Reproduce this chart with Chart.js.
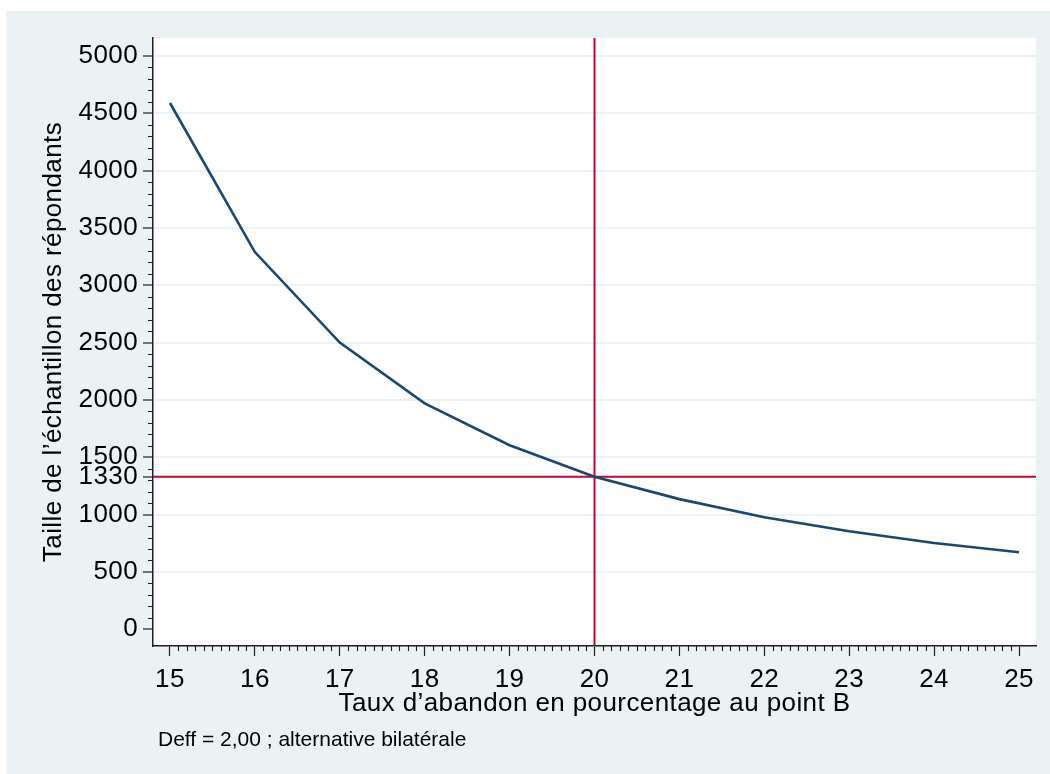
<!DOCTYPE html>
<html>
<head>
<meta charset="utf-8">
<script src="https://cdn.jsdelivr.net/npm/chart.js@4"></script>
<style>
  html, body { margin: 0; padding: 0; background: #ffffff; }
  canvas { display: block; }
</style>
</head>
<body>
<canvas id="c" width="1050" height="774"></canvas>
<script>
// ---- Data ----
const dropoutRates = [15, 16, 17, 18, 19, 20, 21, 22, 23, 24, 25];
const sampleSizes  = [4590, 3290, 2500, 1970, 1605, 1330, 1135, 977, 855, 752, 672];
const yTickValues  = [0, 500, 1000, 1330, 1500, 2000, 2500, 3000, 3500, 4000, 4500, 5000];
const xTickValues  = [15, 16, 17, 18, 19, 20, 21, 22, 23, 24, 25];
const refX = 20;
const refY = 1330;
const xTitle = 'Taux d\u2019abandon en pourcentage au point B';
const yTitle = 'Taille de l\u2019\u00e9chantillon des r\u00e9pondants';
const noteText = 'Deff = 2,00 ; alternative bilat\u00e9rale';

const NAVY = '#1a476f';
const CRANBERRY = '#c10534';
const BG = '#eaf2f3';
const AXIS = '#1e1e1e';
const FONT = "'Liberation Sans', Arial, Helvetica, sans-serif";
const SPACING = '0.4px';

const spacingPlugin = {
  id: 'spacing',
  beforeLayout(chart) { chart.ctx.letterSpacing = SPACING; },
  beforeDraw(chart) { chart.ctx.letterSpacing = SPACING; }
};

const backgroundPlugin = {
  id: 'bgPlot',
  beforeDraw(chart) {
    const { ctx, chartArea: a, width, height } = chart;
    ctx.save();
    ctx.fillStyle = '#ffffff';
    ctx.fillRect(0, 0, width, height);
    ctx.fillStyle = BG;
    ctx.fillRect(6, 11, width - 6, height - 11);
    ctx.fillStyle = '#ffffff';
    ctx.fillRect(a.left, a.top, a.right - a.left, a.bottom - a.top);
    ctx.restore();
  }
};

const refLinesPlugin = {
  id: 'refLines',
  beforeDatasetsDraw(chart) {
    const { ctx, chartArea: a, scales } = chart;
    const px = scales.x.getPixelForValue(refX);
    const py = scales.y.getPixelForValue(refY);
    ctx.save();
    ctx.strokeStyle = CRANBERRY;
    ctx.lineWidth = 2;
    ctx.beginPath();
    ctx.moveTo(px, a.top);
    ctx.lineTo(px, a.bottom);
    ctx.moveTo(a.left, py);
    ctx.lineTo(a.right, py);
    ctx.stroke();
    ctx.restore();
  }
};

const minorTicksPlugin = {
  id: 'minorTicks',
  afterDraw(chart) {
    const { ctx, chartArea: a, scales } = chart;
    ctx.save();
    ctx.strokeStyle = AXIS;
    ctx.lineWidth = 1.1;
    ctx.beginPath();
    for (let v = 0; v <= 5000; v += 100) {
      if (v % 500 === 0) continue;
      const y = Math.round(scales.y.getPixelForValue(v)) + 0.5;
      ctx.moveTo(a.left - 5, y);
      ctx.lineTo(a.left, y);
    }
    for (let i = 150; i <= 250; i++) {
      if (i % 10 === 0) continue;
      const x = Math.round(scales.x.getPixelForValue(i / 10)) + 0.5;
      ctx.moveTo(x, a.bottom);
      ctx.lineTo(x, a.bottom + 5);
    }
    ctx.stroke();
    // note
    ctx.letterSpacing = '0px';
    ctx.fillStyle = '#000000';
    ctx.font = "21px " + FONT;
    ctx.textAlign = 'left';
    ctx.textBaseline = 'alphabetic';
    ctx.fillText(noteText, 158, 746);
    ctx.restore();
  }
};

new Chart(document.getElementById('c'), {
  type: 'line',
  data: {
    datasets: [{
      data: dropoutRates.map((x, i) => ({ x: x, y: sampleSizes[i] })),
      borderColor: NAVY,
      borderWidth: 2.6,
      pointRadius: 0,
      tension: 0,
      fill: false
    }]
  },
  options: {
    responsive: false,
    animation: false,
    devicePixelRatio: 1,
    layout: { padding: { left: 0, top: 38, right: 14, bottom: 0 } },
    plugins: { legend: { display: false }, tooltip: { enabled: false } },
    scales: {
      x: {
        type: 'linear',
        min: 14.8,
        max: 25.2,
        afterBuildTicks(scale) { scale.ticks = xTickValues.map(v => ({ value: v })); },
        afterFit(scale) { scale.height = 128; },
        ticks: {
          autoSkip: false,
          maxRotation: 0,
          padding: 8,
          color: '#000000',
          font: { family: FONT, size: 26 },
          callback: v => String(v)
        },
        grid: {
          drawOnChartArea: false,
          drawTicks: true,
          tickLength: 10,
          tickColor: AXIS,
          tickWidth: 1.2
        },
        border: { display: true, color: AXIS, width: 1.5 },
        title: {
          display: true,
          text: xTitle,
          color: '#000000',
          font: { family: FONT, size: 26 },
          padding: { top: 0, bottom: 55 }
        }
      },
      y: {
        type: 'linear',
        min: -146,
        max: 5157,
        afterBuildTicks(scale) { scale.ticks = yTickValues.map(v => ({ value: v })); },
        afterFit(scale) { scale.width = 153; },
        ticks: {
          autoSkip: false,
          padding: 5,
          color: '#000000',
          font: { family: FONT, size: 26 },
          callback: v => String(v)
        },
        grid: {
          drawOnChartArea: true,
          drawTicks: true,
          tickLength: 10,
          tickColor: AXIS,
          tickWidth: 1.2,
          lineWidth: 2,
          color: ctx => (ctx.tick && (ctx.tick.value === 0 || ctx.tick.value === refY)) ? 'rgba(0,0,0,0)' : BG
        },
        border: { display: true, color: AXIS, width: 1.5 },
        title: {
          display: true,
          text: yTitle,
          color: '#000000',
          font: { family: FONT, size: 26 },
          padding: { top: 38, bottom: 0 }
        }
      }
    }
  },
  plugins: [spacingPlugin, backgroundPlugin, refLinesPlugin, minorTicksPlugin]
});
</script>
</body>
</html>
